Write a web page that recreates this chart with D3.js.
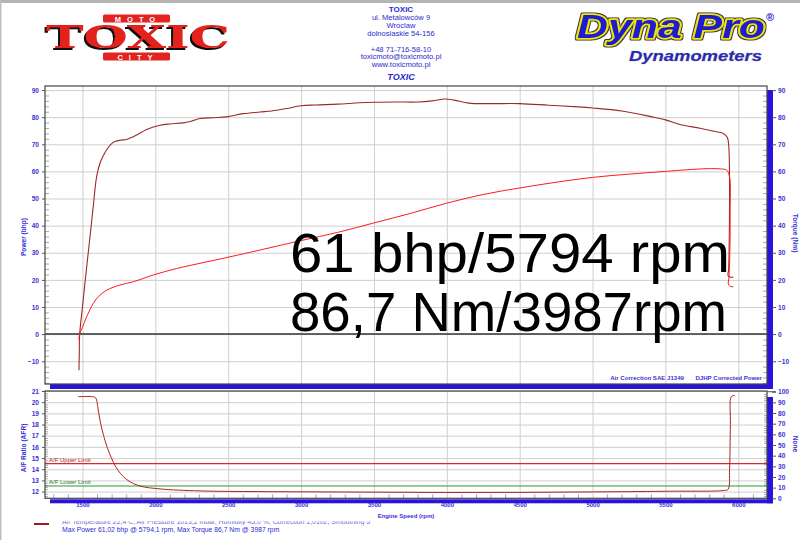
<!DOCTYPE html>
<html><head><meta charset="utf-8">
<script src="https://cdn.jsdelivr.net/npm/d3@7"></script>
<style>
html,body{margin:0;padding:0;background:#fff;}
svg{display:block;font-family:"Liberation Sans",Arial,sans-serif;}
</style></head>
<body><svg id="c" width="800" height="540"></svg>
<script>
// ---------- DATA ----------
const torqueRpm = [1476,1478,1481,1500,1529,1552,1574,1597,1620,1645,1666,1695,1723,1760,1803,1840,1872,1940,2032,2100,2192,2250,2306,2400,2489,2603,2718,2800,2900,3000,3100,3250,3400,3500,3650,3800,3900,3987,4050,4150,4300,4500,4700,4900,5000,5200,5400,5500,5600,5737,5850,5897,5925,5935,5940,5938,5934,5930,5945,5966];
const torqueNm  = [-13.3,-8,0,10,24.8,36,47,58,63,66,68,70,71,71.5,71.8,72.6,73.4,75.5,77,77.5,77.9,78.6,79.5,79.8,80.1,81.3,81.9,82.3,83.2,84.2,84.5,84.8,85.3,85.5,85.6,85.6,86.0,86.7,86.3,85.2,85.0,85.0,84.4,83.8,83.4,82.3,80.2,79.0,77.3,75.9,74.6,74.0,72.5,69,55,35,24,21.5,21,21];
const powerRpm  = [1476,1480,1500,1529,1574,1609,1666,1757,1849,1986,2146,2306,2512,2718,3000,3250,3500,3750,4000,4250,4500,4750,5000,5250,5500,5650,5794,5880,5920,5940,5944,5942,5936,5932,5945,5966];
const powerBhp  = [-2,0,2.5,6.4,11.3,13.8,16.2,18.1,19.3,21.8,24.2,26.1,28.5,31,34.5,37.5,41,44.5,48.3,51.5,53.9,56,57.8,59,60,60.6,61.02,60.9,60.5,58,45,30,21,18.5,17.6,17.5];
const afrRpm    = [1470,1500,1560,1590,1605,1620,1654,1689,1744,1812,1895,2032,2306,2700,3000,3500,4000,4500,5000,5500,5900,5930,5940,5946,5952,5975];
const afrValue  = [20.5,20.5,20.5,20.4,19.6,18.4,16.6,15.3,13.9,13.0,12.5,12.24,12.06,12.0,11.98,11.95,11.92,11.93,11.97,12.03,12.1,12.2,14,18,20.5,20.6];
const afrUpperLimit = 14.5;
const afrLowerLimit = 12.5;
const rpmTicks   = [1500,2000,2500,3000,3500,4000,4500,5000,5500,6000];
const powerTicks = [-10,0,10,20,30,40,50,60,70,80,90];
const torqueTicks= [-10,0,10,20,30,40,50,60,70,80,90];
const afrTicks   = [12,13,14,15,16,17,18,19,20,21];
const noneTicks  = [0,10,20,30,40,50,60,70,80,90,100];
const headerLines = ["ul. Metalowców 9","Wroclaw","dolnoslaskie 54-156","","+48 71-716-58-10","toxicmoto@toxicmoto.pl","www.toxicmoto.pl"];
const bigText = ["61 bhp/5794 rpm","86,7 Nm/3987rpm"];
const summaryText = "Max Power 61,02 bhp @ 5794,1 rpm, Max Torque 86,7 Nm @ 3987 rpm";

// ---------- SETUP ----------
const svg = d3.select("#c");
const BLUE = "#3a33d6", SHADOW = "#2a14dc", GRID = "#cfcfcf";
const TORQ = "#9b2a2a", POW = "#ff1a1a";

const defs = svg.append("defs");
defs.html(`
<filter id="shad" x="-10%" y="-20%" width="120%" height="140%">
  <feOffset in="SourceAlpha" dx="-2" dy="1.5" result="o"/>
  <feFlood flood-color="#111"/><feComposite in2="o" operator="in" result="s"/>
  <feMerge><feMergeNode in="s"/><feMergeNode in="SourceGraphic"/></feMerge>
</filter>
<filter id="outl" x="-10%" y="-20%" width="120%" height="140%">
  <feMorphology in="SourceAlpha" operator="dilate" radius="1" result="d"/>
  <feFlood flood-color="#3a3a3a"/><feComposite in2="d" operator="in" result="o"/>
  <feMerge><feMergeNode in="o"/><feMergeNode in="SourceGraphic"/></feMerge>
</filter>
<clipPath id="legclip"><rect x="0" y="521.3" width="800" height="4"/></clipPath>`);

svg.append("rect").attr("x",0).attr("y",0).attr("width",800).attr("height",3).attr("fill","#b4b4b4");
svg.append("rect").attr("x",0).attr("y",0).attr("width",1.5).attr("height",540).attr("fill","#bdbdbd");

// ---------- HEADER: TOXIC logo ----------
const lg = svg.append("g");
[[103,14.5,"MOTO"],[103,52.5,"CITY"]].forEach(([x,y,t])=>{
  lg.append("rect").attr("x",x).attr("y",y).attr("width",67).attr("height",8).attr("rx",1.5).attr("fill","#e3231f");
  lg.append("text").attr("x",x+35).attr("y",y+7).attr("text-anchor","middle").attr("font-size",7.5).attr("font-weight","bold")
    .attr("fill","#fff").attr("letter-spacing",6).text(t);
});
lg.append("text").attr("x",46).attr("y",48).attr("font-family","DejaVu Serif").attr("font-weight","bold").attr("font-size",31)
  .attr("textLength",184).attr("lengthAdjust","spacingAndGlyphs").attr("fill","#e3231f").attr("filter","url(#shad)").text("TOXIC");

// ---------- HEADER: address ----------
const hg = svg.append("g").attr("fill","#2b2bd0").attr("text-anchor","middle").attr("font-size",7.6);
hg.append("text").attr("x",401).attr("y",12).attr("font-weight","bold").attr("font-size",8).text("TOXIC");
const hy=[19.5,27.5,35.5,43.5,51.5,59,66.5];
headerLines.forEach((t,i)=>{ if(t) hg.append("text").attr("x",401).attr("y",hy[i]).text(t); });
hg.append("text").attr("x",401).attr("y",79.5).attr("font-weight","bold").attr("font-style","italic").attr("font-size",9).text("TOXIC");

// ---------- HEADER: Dyna Pro ----------
const dg = svg.append("g").attr("font-weight","bold").attr("font-style","italic");
dg.append("text").attr("x",577).attr("y",38).attr("font-size",33).attr("textLength",188).attr("lengthAdjust","spacingAndGlyphs")
  .attr("fill","#1b1bd2").attr("stroke","#f4e600").attr("stroke-width",3).attr("stroke-linejoin","round").attr("paint-order","stroke")
  .attr("filter","url(#outl)").text("Dyna Pro");
dg.append("text").attr("x",766).attr("y",21).attr("font-size",11).attr("font-style","normal").attr("fill","#1b1bd2").text("®");
dg.append("text").attr("x",629).attr("y",61).attr("font-size",14).attr("textLength",133).attr("lengthAdjust","spacingAndGlyphs")
  .attr("fill","#2a2ab4").attr("stroke","#bbb").attr("stroke-width",0.6).attr("paint-order","stroke").text("Dynamometers");

// ---------- SCALES ----------
const L=45, R=767, T1=86, B1=384, T2=391, B2=498.3;
const x = d3.scaleLinear().domain([1243,6197]).range([L,R]);
const y = d3.scaleLinear().domain([-18.4,91.5]).range([B1,T1]);
const ya = d3.scaleLinear().domain([11.4,21]).range([B2,T2]);
const yn = d3.scaleLinear().domain([0,100]).range([B2,T2+0.7]);

// shadows
svg.append("rect").attr("x",R).attr("y",90).attr("width",6).attr("height",B1+5-90).attr("fill",SHADOW);
svg.append("rect").attr("x",50).attr("y",B1).attr("width",R+6-50).attr("height",5).attr("fill",SHADOW);
svg.append("rect").attr("x",R).attr("y",397).attr("width",6).attr("height",B2+5-397).attr("fill",SHADOW);
svg.append("rect").attr("x",50).attr("y",B2+1).attr("width",R+6-50).attr("height",4).attr("fill",SHADOW);

function styleAxis(fs){ return g=>{ g.select(".domain").remove(); g.selectAll("text").attr("fill",BLUE).attr("font-weight","bold").attr("font-size",fs).attr("font-family","Liberation Sans"); }; }

// ---------- TOP CHART ----------
const topG = svg.append("g");
topG.append("rect").attr("x",L).attr("y",T1).attr("width",R-L).attr("height",B1-T1).attr("fill","#fff");
topG.append("g").attr("transform",`translate(${L},0)`).call(d3.axisLeft(y).tickValues(powerTicks).tickSize(-(R-L)).tickFormat(""))
  .call(g=>{g.select(".domain").remove(); g.selectAll("line").attr("stroke",GRID);});
topG.append("g").attr("transform",`translate(0,${B1})`).call(d3.axisBottom(x).tickValues(rpmTicks).tickSize(-(B1-T1)).tickFormat(""))
  .call(g=>{g.select(".domain").remove(); g.selectAll("line").attr("stroke",GRID);});
const minorTop = d3.range(-18,92,2).filter(v=>v%10!==0);
topG.append("g").attr("transform",`translate(${L},0)`).call(d3.axisRight(y).tickValues(minorTop).tickSize(4).tickFormat(""))
  .call(g=>{g.select(".domain").remove(); g.selectAll("line").attr("stroke","#aaa");});
topG.append("g").attr("transform",`translate(${R},0)`).call(d3.axisLeft(y).tickValues(minorTop).tickSize(4).tickFormat(""))
  .call(g=>{g.select(".domain").remove(); g.selectAll("line").attr("stroke","#aaa");});
topG.append("line").attr("x1",L).attr("x2",R).attr("y1",y(0)).attr("y2",y(0)).attr("stroke","#333").attr("stroke-width",1.5);
topG.append("rect").attr("x",L).attr("y",T1).attr("width",R-L).attr("height",B1-T1).attr("fill","none").attr("stroke","#444").attr("stroke-width",1.2);
topG.append("g").attr("transform",`translate(${L},0)`).call(d3.axisLeft(y).tickValues(powerTicks).tickSize(3).tickPadding(3))
  .call(styleAxis(6.6)).call(g=>g.selectAll("line").attr("stroke","#555"));
topG.append("g").attr("transform",`translate(${R+5},0)`).call(d3.axisRight(y).tickValues(torqueTicks).tickSize(4).tickPadding(2))
  .call(styleAxis(6.6)).call(g=>g.selectAll("line").attr("stroke","#555"));
svg.append("text").attr("transform","translate(26,237) rotate(-90)").attr("text-anchor","middle").attr("fill",BLUE).attr("font-weight","bold").attr("font-size",6.6).text("Power (bhp)");
svg.append("text").attr("transform","translate(793,233) rotate(90)").attr("text-anchor","middle").attr("fill",BLUE).attr("font-weight","bold").attr("font-size",6.6).text("Torque (Nm)");

const curve = d3.curveCatmullRom.alpha(0.5);
const tLine = d3.line().x(d=>x(d[0])).y(d=>y(d[1])).curve(curve);
topG.append("path").attr("d",tLine(d3.zip(torqueRpm,torqueNm))).attr("fill","none").attr("stroke",TORQ).attr("stroke-width",1.1);
topG.append("path").attr("d",tLine(d3.zip(powerRpm,powerBhp))).attr("fill","none").attr("stroke",POW).attr("stroke-width",1);

const bigLen=[440,437];
bigText.forEach((t,i)=>topG.append("text").attr("x",290).attr("y",272+i*59).attr("font-size",56).attr("fill","#000")
  .attr("textLength",bigLen[i]).attr("lengthAdjust","spacingAndGlyphs").text(t));

topG.append("text").attr("x",684).attr("y",380).attr("text-anchor","end").attr("fill",BLUE).attr("font-weight","bold").attr("font-size",6.1).text("Air Correction SAE J1349");
topG.append("text").attr("x",762).attr("y",380).attr("text-anchor","end").attr("fill",BLUE).attr("font-weight","bold").attr("font-size",6.1).text("DJHP Corrected Power");

// ---------- BOTTOM CHART ----------
const bot = svg.append("g");
bot.append("rect").attr("x",L).attr("y",T2).attr("width",R-L).attr("height",B2-T2).attr("fill","#fff");
bot.append("g").attr("transform",`translate(${L},0)`).call(d3.axisLeft(ya).tickValues(afrTicks).tickSize(-(R-L)).tickFormat(""))
  .call(g=>{g.select(".domain").remove(); g.selectAll("line").attr("stroke",GRID);});
bot.append("g").attr("transform",`translate(0,${B2})`).call(d3.axisBottom(x).tickValues(rpmTicks).tickSize(-(B2-T2)).tickFormat(""))
  .call(g=>{g.select(".domain").remove(); g.selectAll("line").attr("stroke",GRID);});
const minorA = d3.range(11.6,21,0.2).filter(v=>Math.abs(v-Math.round(v))>0.01);
bot.append("g").attr("transform",`translate(${L},0)`).call(d3.axisRight(ya).tickValues(minorA).tickSize(3).tickFormat(""))
  .call(g=>{g.select(".domain").remove(); g.selectAll("line").attr("stroke","#aaa");});
const minorN = d3.range(2,100,2).filter(v=>v%10!==0);
bot.append("g").attr("transform",`translate(${R},0)`).call(d3.axisLeft(yn).tickValues(minorN).tickSize(3).tickFormat(""))
  .call(g=>{g.select(".domain").remove(); g.selectAll("line").attr("stroke","#aaa");});
const minorX = d3.range(1300,6200,100).filter(v=>v%500!==0);
bot.append("g").attr("transform",`translate(0,${B2})`).call(d3.axisTop(x).tickValues(minorX).tickSize(4).tickFormat(""))
  .call(g=>{g.select(".domain").remove(); g.selectAll("line").attr("stroke","#aaa");});
bot.append("line").attr("x1",L).attr("x2",R).attr("y1",ya(afrUpperLimit)).attr("y2",ya(afrUpperLimit)).attr("stroke","#d42a2a").attr("stroke-width",1.2);
bot.append("line").attr("x1",L).attr("x2",R).attr("y1",ya(afrLowerLimit)).attr("y2",ya(afrLowerLimit)).attr("stroke","#2a9a2a").attr("stroke-width",1.2);
bot.append("text").attr("x",49).attr("y",ya(afrUpperLimit)-2).attr("fill","#b02020").attr("font-size",6).text("A/F Upper Limit");
bot.append("text").attr("x",49).attr("y",ya(afrLowerLimit)-2).attr("fill","#1f7a1f").attr("font-size",6).text("A/F Lower Limit");
bot.append("rect").attr("x",L).attr("y",T2).attr("width",R-L).attr("height",B2-T2).attr("fill","none").attr("stroke","#444").attr("stroke-width",1.2);
bot.append("g").attr("transform",`translate(${L},0)`).call(d3.axisLeft(ya).tickValues(afrTicks).tickSize(3).tickPadding(3))
  .call(styleAxis(6.6)).call(g=>g.selectAll("line").attr("stroke","#555"));
bot.append("g").attr("transform",`translate(${R+5},0)`).call(d3.axisRight(yn).tickValues(noneTicks).tickSize(4).tickPadding(2))
  .call(styleAxis(6.6)).call(g=>g.selectAll("line").attr("stroke","#555"));
bot.append("line").attr("x1",R).attr("x2",R+9).attr("y1",yn(100)).attr("y2",yn(100)).attr("stroke","#555");
const aLine = d3.line().x(d=>x(d[0])).y(d=>ya(d[1])).curve(curve);
bot.append("path").attr("d",aLine(d3.zip(afrRpm,afrValue))).attr("fill","none").attr("stroke","#b02222").attr("stroke-width",1);
svg.append("text").attr("transform","translate(26,448) rotate(-90)").attr("text-anchor","middle").attr("fill",BLUE).attr("font-weight","bold").attr("font-size",6.6).text("A/F Ratio (AFR)");
svg.append("text").attr("transform","translate(793,444) rotate(90)").attr("text-anchor","middle").attr("fill",BLUE).attr("font-weight","bold").attr("font-size",6.6).text("None");

svg.append("g").attr("transform",`translate(0,499)`).call(d3.axisBottom(x).tickValues(rpmTicks).tickSize(0).tickPadding(4).tickFormat(d3.format("d")))
  .call(styleAxis(6));
svg.append("text").attr("x",406).attr("y",517.5).attr("text-anchor","middle").attr("fill",BLUE).attr("font-weight","bold").attr("font-size",6).text("Engine Speed (rpm)");

// ---------- LEGEND ----------
svg.append("line").attr("x1",34).attr("x2",49).attr("y1",524).attr("y2",524).attr("stroke","#9b1c1c").attr("stroke-width",2);
svg.append("text").attr("clip-path","url(#legclip)").attr("x",62).attr("y",523.8).attr("fill","#6a6ad8").attr("font-size",6.8)
  .attr("textLength",308).attr("lengthAdjust","spacingAndGlyphs")
  .text("Air Temperature 22,4 C, Air Pressure 1013,2 mbar, Humidity 45,0 %, Correction 1,0102, Smoothing 5");
svg.append("text").attr("x",62).attr("y",532).attr("fill","#2b2bd0").attr("font-size",6.8).text(summaryText);
</script></body></html>
